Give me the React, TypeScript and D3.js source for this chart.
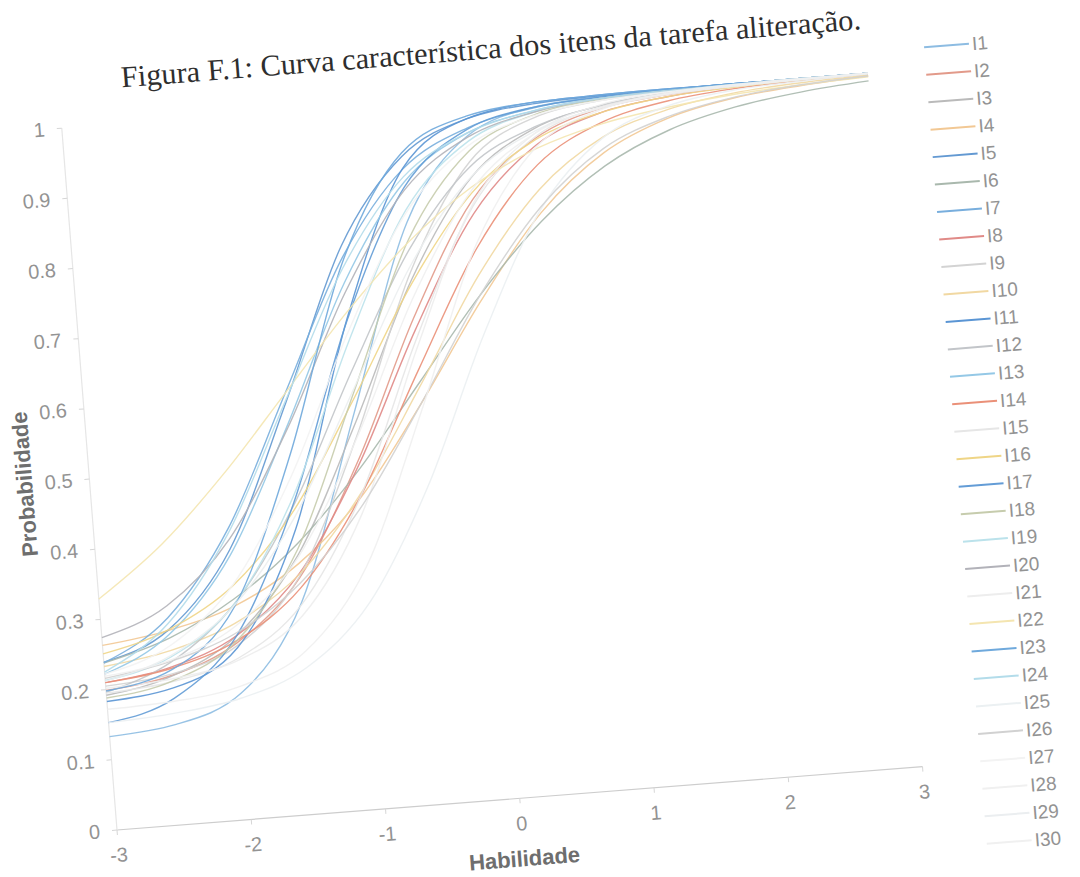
import { useEffect, useRef } from 'react';
import * as d3 from 'd3';

// ability grid the curves were read at
const ability = [-3, -2.5, -2, -1.5, -1, -0.5, 0, 0.5, 1, 1.5, 2, 2.5, 3];
const xTicks = [-3, -2, -1, 0, 1, 2, 3];
const yTicks = [0, 0.1, 0.2, 0.3, 0.4, 0.5, 0.6, 0.7, 0.8, 0.9, 1];

const itemNames = [
  'I1', 'I2', 'I3', 'I4', 'I5', 'I6', 'I7', 'I8', 'I9', 'I10',
  'I11', 'I12', 'I13', 'I14', 'I15', 'I16', 'I17', 'I18', 'I19', 'I20',
  'I21', 'I22', 'I23', 'I24', 'I25', 'I26', 'I27', 'I28', 'I29', 'I30',
];

const itemColors = [
  '#8dbce2', '#e29a8a', '#bababa', '#f2c894', '#6399d2', '#a9b8ad', '#78aedd', '#e08a87', '#d3d3d3', '#f1d8a2',
  '#5a95d4', '#c2c5c9', '#94c8e6', '#ea9078', '#e6e6e6', '#efd586', '#639cd6', '#c6ccad', '#bbe2eb', '#b2b2b9',
  '#ededed', '#f4e5b0', '#6fa9dc', '#b3dcea', '#ebf0f2', '#d1d1d1', '#f3f3f3', '#f0f0f0', '#ebeef0', '#f0f0f0',
];

// probability of a correct answer per item
const i1 = [0.133, 0.143, 0.18, 0.302, 0.565, 0.828, 0.944, 0.977, 0.985, 0.987, 0.988, 0.988, 0.988];
const i2 = [0.199, 0.213, 0.252, 0.337, 0.496, 0.694, 0.853, 0.933, 0.968, 0.98, 0.985, 0.987, 0.988];
const i3 = [0.192, 0.212, 0.262, 0.369, 0.549, 0.746, 0.884, 0.947, 0.972, 0.982, 0.986, 0.987, 0.988];
const i4 = [0.263, 0.277, 0.304, 0.357, 0.444, 0.57, 0.708, 0.827, 0.905, 0.947, 0.968, 0.978, 0.984];
const i5 = [0.239, 0.278, 0.385, 0.587, 0.802, 0.922, 0.968, 0.982, 0.986, 0.987, 0.988, 0.988, 0.988];
const i6 = [0.238, 0.266, 0.314, 0.385, 0.483, 0.6, 0.717, 0.815, 0.886, 0.93, 0.955, 0.969, 0.977];
const i7 = [0.238, 0.295, 0.415, 0.6, 0.785, 0.904, 0.955, 0.976, 0.984, 0.986, 0.987, 0.988, 0.988];
const i8 = [0.21, 0.225, 0.262, 0.343, 0.489, 0.675, 0.833, 0.923, 0.962, 0.977, 0.984, 0.986, 0.987];
const i9 = [0.205, 0.215, 0.248, 0.339, 0.529, 0.758, 0.907, 0.962, 0.979, 0.985, 0.987, 0.988, 0.988];
const i10 = [0.233, 0.248, 0.28, 0.342, 0.449, 0.594, 0.745, 0.86, 0.927, 0.959, 0.975, 0.982, 0.985];
const i11 = [0.183, 0.195, 0.245, 0.407, 0.698, 0.905, 0.968, 0.984, 0.987, 0.988, 0.988, 0.988, 0.988];
const i12 = [0.196, 0.232, 0.307, 0.441, 0.622, 0.789, 0.9, 0.949, 0.972, 0.982, 0.985, 0.987, 0.988];
const i13 = [0.222, 0.271, 0.377, 0.555, 0.749, 0.885, 0.948, 0.972, 0.983, 0.986, 0.987, 0.988, 0.988];
const i14 = [0.21, 0.223, 0.255, 0.322, 0.446, 0.618, 0.783, 0.895, 0.948, 0.971, 0.981, 0.985, 0.987];
const i15 = [0.195, 0.204, 0.23, 0.299, 0.446, 0.661, 0.844, 0.935, 0.97, 0.982, 0.986, 0.987, 0.988];
const i16 = [0.251, 0.278, 0.333, 0.434, 0.583, 0.741, 0.863, 0.931, 0.962, 0.977, 0.983, 0.986, 0.987];
const i17 = [0.153, 0.18, 0.262, 0.444, 0.696, 0.878, 0.953, 0.977, 0.984, 0.987, 0.988, 0.988, 0.988];
const i18 = [0.188, 0.205, 0.255, 0.377, 0.59, 0.803, 0.922, 0.966, 0.981, 0.985, 0.987, 0.988, 0.988];
const i19 = [0.213, 0.239, 0.307, 0.453, 0.666, 0.846, 0.936, 0.97, 0.982, 0.986, 0.987, 0.988, 0.988];
const i20 = [0.274, 0.312, 0.399, 0.551, 0.735, 0.874, 0.942, 0.97, 0.982, 0.985, 0.987, 0.988, 0.988];
const i21 = [0.202, 0.208, 0.227, 0.283, 0.421, 0.648, 0.847, 0.94, 0.973, 0.984, 0.986, 0.987, 0.988];
const i22 = [0.329, 0.4, 0.493, 0.6, 0.707, 0.8, 0.871, 0.918, 0.946, 0.962, 0.973, 0.979, 0.983];
const i23 = [0.198, 0.221, 0.303, 0.512, 0.779, 0.927, 0.972, 0.984, 0.987, 0.988, 0.988, 0.988, 0.988];
const i24 = [0.225, 0.287, 0.409, 0.59, 0.771, 0.893, 0.948, 0.972, 0.982, 0.985, 0.987, 0.988, 0.988];
const i25 = [0.153, 0.159, 0.173, 0.209, 0.293, 0.451, 0.659, 0.832, 0.926, 0.964, 0.979, 0.984, 0.987];
const i26 = [0.216, 0.233, 0.266, 0.329, 0.431, 0.57, 0.717, 0.835, 0.911, 0.949, 0.969, 0.979, 0.984];
const i27 = [0.222, 0.255, 0.334, 0.483, 0.679, 0.842, 0.93, 0.965, 0.979, 0.984, 0.987, 0.988, 0.988];
const i28 = [0.172, 0.176, 0.19, 0.232, 0.345, 0.56, 0.789, 0.92, 0.966, 0.982, 0.986, 0.987, 0.988];
const i29 = [0.212, 0.241, 0.305, 0.424, 0.595, 0.766, 0.885, 0.943, 0.968, 0.98, 0.984, 0.986, 0.987];
const i30 = [0.219, 0.235, 0.276, 0.366, 0.527, 0.72, 0.867, 0.94, 0.969, 0.981, 0.985, 0.987, 0.988];

const itemCurves = [
  i1, i2, i3, i4, i5, i6, i7, i8, i9, i10,
  i11, i12, i13, i14, i15, i16, i17, i18, i19, i20,
  i21, i22, i23, i24, i25, i26, i27, i28, i29, i30,
];

const titleText = 'Figura F.1: Curva característica dos itens da tarefa aliteração.';

function App() {
  const svgRef = useRef(null);

  useEffect(() => {
    const svg = d3.select(svgRef.current);
    svg.selectAll('*').remove();

    const width = 808;
    const height = 704;
    const sans = '"Liberation Sans", Arial, sans-serif';
    const tickColor = '#939393';

    // the scanned page is tilted, so the whole figure sits in a rotated group
    const g = svg.append('g')
      .attr('transform', 'translate(117,830) rotate(-4.5)');

    const x = d3.scaleLinear().domain([-3, 3]).range([0, width]);
    const y = d3.scaleLinear().domain([0, 1]).range([0, -height]);

    g.append('text')
      .attr('x', 63)
      .attr('y', -740)
      .attr('font-family', '"Liberation Serif", "Times New Roman", serif')
      .attr('font-size', 30)
      .attr('fill', '#2e2e2e')
      .attr('textLength', 742)
      .attr('lengthAdjust', 'spacingAndGlyphs')
      .text(titleText);

    // axes
    g.append('line')
      .attr('x1', 0).attr('x2', width)
      .attr('y1', 0).attr('y2', 0)
      .attr('stroke', '#cdcdcd').attr('stroke-width', 1.2);
    g.append('line')
      .attr('x1', 0).attr('x2', 0)
      .attr('y1', 0).attr('y2', -height)
      .attr('stroke', '#e6e6e6').attr('stroke-width', 1.2);

    g.selectAll('.ytick')
      .data(yTicks)
      .join('line')
      .attr('x1', -5).attr('x2', 0)
      .attr('y1', d => y(d)).attr('y2', d => y(d))
      .attr('stroke', '#d6d6d6');

    g.selectAll('.ylabel')
      .data(yTicks)
      .join('text')
      .attr('x', -17)
      .attr('y', d => y(d))
      .attr('dy', '0.35em')
      .attr('text-anchor', 'end')
      .attr('font-family', sans)
      .attr('font-size', 20)
      .attr('fill', tickColor)
      .text(d => String(d));

    g.selectAll('.xtick')
      .data(xTicks)
      .join('line')
      .attr('x1', d => x(d)).attr('x2', d => x(d))
      .attr('y1', 0).attr('y2', 5)
      .attr('stroke', '#d6d6d6');

    g.selectAll('.xlabel')
      .data(xTicks)
      .join('text')
      .attr('x', d => x(d))
      .attr('y', 32)
      .attr('text-anchor', 'middle')
      .attr('font-family', sans)
      .attr('font-size', 20)
      .attr('fill', tickColor)
      .text(d => String(d));

    g.append('text')
      .attr('x', width / 2)
      .attr('y', 68)
      .attr('text-anchor', 'middle')
      .attr('font-family', sans)
      .attr('font-weight', 'bold')
      .attr('font-size', 22)
      .attr('fill', '#6e6e6e')
      .text('Habilidade');

    g.append('text')
      .attr('transform', `translate(-65,${-height / 2}) rotate(-90)`)
      .attr('dy', '0.35em')
      .attr('text-anchor', 'middle')
      .attr('font-family', sans)
      .attr('font-weight', 'bold')
      .attr('font-size', 22)
      .attr('fill', '#6e6e6e')
      .text('Probabilidade');

    // item characteristic curves
    const line = d3.line()
      .x((d, i) => x(ability[i]))
      .y(d => y(d))
      .curve(d3.curveMonotoneX);

    g.append('g')
      .selectAll('path')
      .data(itemCurves)
      .join('path')
      .attr('fill', 'none')
      .attr('stroke', (d, i) => itemColors[i])
      .attr('stroke-width', 1.4)
      .attr('stroke-opacity', 0.9)
      .attr('d', line);

    // legend
    const legendTop = -717;
    const legendStep = 27.55;
    const legend = g.append('g');
    legend.selectAll('line')
      .data(itemNames)
      .join('line')
      .attr('x1', 866).attr('x2', 911)
      .attr('y1', (d, i) => legendTop + i * legendStep)
      .attr('y2', (d, i) => legendTop + i * legendStep)
      .attr('stroke', (d, i) => itemColors[i])
      .attr('stroke-width', 2);
    legend.selectAll('text')
      .data(itemNames)
      .join('text')
      .attr('x', 914)
      .attr('y', (d, i) => legendTop + i * legendStep)
      .attr('dy', '0.35em')
      .attr('font-family', sans)
      .attr('font-size', 19)
      .attr('fill', tickColor)
      .text(d => d);
  }, []);

  return (
    <svg
      ref={svgRef}
      width={1080}
      height={877}
      style={{ position: 'absolute', left: 0, top: 0, background: '#fff' }}
    ></svg>
  );
}

export default App;
